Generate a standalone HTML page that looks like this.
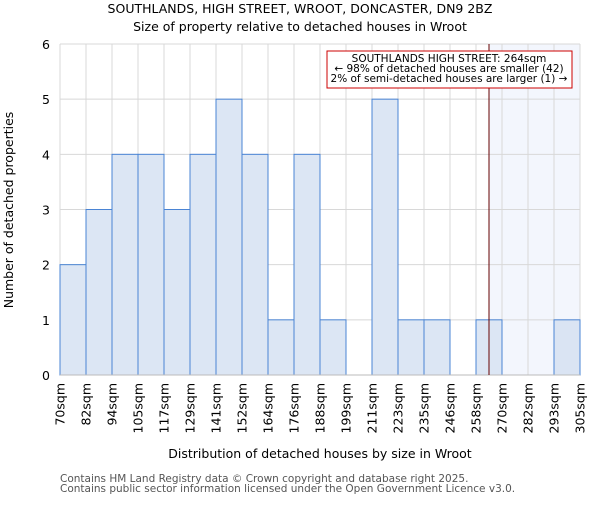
<!DOCTYPE html>
<html><head><meta charset="utf-8"><style>
body{margin:0;background:#fff;}
svg{font-family:"DejaVu Sans","Liberation Sans",sans-serif;}
</style></head><body>
<svg id="chart" width="600" height="500" xmlns="http://www.w3.org/2000/svg">
<text x="300" y="13" text-anchor="middle" font-size="12.5" fill="#000">SOUTHLANDS, HIGH STREET, WROOT, DONCASTER, DN9 2BZ</text>
<text x="300" y="31" text-anchor="middle" font-size="12.5" fill="#000">Size of property relative to detached houses in Wroot</text>
<g id="plot"></g>
<text x="320" y="458" text-anchor="middle" font-size="12.5">Distribution of detached houses by size in Wroot</text>
<text transform="translate(13,210) rotate(-90)" text-anchor="middle" font-size="12.5">Number of detached properties</text>
<text x="60" y="482" font-size="10.5" fill="#555">Contains HM Land Registry data © Crown copyright and database right 2025.</text>
<text x="60" y="492" font-size="10.5" fill="#555">Contains public sector information licensed under the Open Government Licence v3.0.</text>
</svg>
<script>
const categories=["70sqm","82sqm","94sqm","105sqm","117sqm","129sqm","141sqm","152sqm","164sqm","176sqm","188sqm","199sqm","211sqm","223sqm","235sqm","246sqm","258sqm","270sqm","282sqm","293sqm","305sqm"];
const counts=[2,3,4,4,3,4,5,4,1,4,1,0,5,1,1,0,1,0,0,1];
const yTicks=[0,1,2,3,4,5,6];
const markerBin=16.5;
const NS="http://www.w3.org/2000/svg";
const L=60,R=580,T=44,B=375,yMax=6;
const bw=(R-L)/counts.length;
const xs=i=>L+i*bw;
const ys=v=>B-(v/yMax)*(B-T);
const g=document.getElementById('plot');
function mk(tag,attrs){const e=document.createElementNS(NS,tag);for(const k in attrs)e.setAttribute(k,attrs[k]);g.appendChild(e);return e;}
const mx=xs(markerBin);
let r=mk('rect',{x:mx,y:T,width:R-mx,height:B-T,fill:'#f3f6fd'});


for(let i=0;i<=counts.length;i++){let l=mk('line',{x1:xs(i),x2:xs(i),y1:T,y2:B,stroke:'#d8d8d8'});

}
yTicks.forEach(t=>{let l=mk('line',{x1:L,x2:R,y1:ys(t),y2:ys(t),stroke:'#d8d8d8'});


let tx=mk('text',{x:L-10,y:ys(t)+5,'text-anchor':'end','font-size':12.5});tx.textContent=t;

});
counts.forEach((c,i)=>{if(c<=0)return;const right=xs(i)>=mx;
let b=mk('rect',{x:xs(i),y:ys(c),width:bw,height:B-ys(c),fill:right?'#dae4f3':'#dce6f4',stroke:'#4a84d4','stroke-width':1});

});
let ax=mk('line',{x1:L,x2:R,y1:B,y2:B,stroke:'#bbb'});


categories.forEach((c,i)=>{let t=mk('text',{transform:`translate(${xs(i)+4.5},383) rotate(-90)`,'text-anchor':'end','font-size':12.5});t.textContent=c;

});
let ml=mk('line',{x1:mx,x2:mx,y1:T,y2:B,stroke:'#600','stroke-width':1});


let box=mk('rect',{x:327,y:51,width:245,height:37,fill:'#fff',stroke:'#c00'});


["SOUTHLANDS HIGH STREET: 264sqm","← 98% of detached houses are smaller (42)","2% of semi-detached houses are larger (1) →"].forEach((s,k)=>{let t=mk('text',{x:449,y:62+k*10,'text-anchor':'middle','font-size':10.5});t.textContent=s;

});
</script>
</body></html>
